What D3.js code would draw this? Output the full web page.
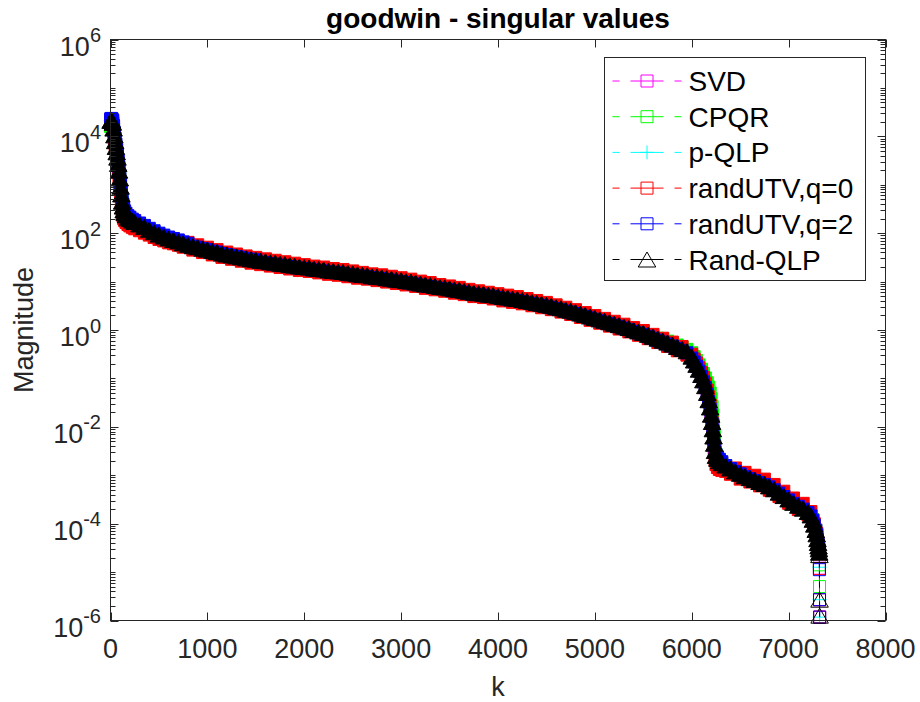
<!DOCTYPE html>
<html>
<head>
<meta charset="utf-8">
<script src="https://cdn.jsdelivr.net/npm/d3@7"></script>
<style>
  body { margin: 0; background: #fff; }
  svg { display: block; }
  text { font-family: "Liberation Sans", Arial, Helvetica, sans-serif; fill: #262626; }
</style>
</head>
<body>
<svg id="chart" width="920" height="702"></svg>
<script>
// ---- chart text ----
const chartTitle = "goodwin - singular values";
const xLabel = "k";
const yLabel = "Magnitude";
const xTicks = [0, 1000, 2000, 3000, 4000, 5000, 6000, 7000, 8000];
const yTickExponents = [-6, -4, -2, 0, 2, 4, 6];
const seriesNames = ["SVD", "CPQR", "p-QLP", "randUTV,q=0", "randUTV,q=2", "Rand-QLP"];

// ---- data: index k and log10 of the estimated singular values ----
const k = [1,8,16,24,32,40,48,56,64,72,80,88,96,104,112,120,128,136,146,160,180,200,225,
  250,300,350,400,450,500,550,600,650,700,
  750,800,850,900,950,1000,1050,1100,1150,1200,
  1250,1300,1350,1400,1450,1500,1550,1600,1650,1700,
  1750,1800,1850,1900,1950,2000,2050,2100,2150,2200,
  2250,2300,2350,2400,2450,2500,2550,2600,2650,2700,
  2750,2800,2850,2900,2950,3000,3050,3100,3150,3200,
  3250,3300,3350,3400,3450,3500,3550,3600,3650,3700,
  3750,3800,3850,3900,3950,4000,4050,4100,4150,4200,
  4250,4300,4350,4400,4450,4500,4550,4600,4650,4700,
  4750,4800,4850,4900,4950,5000,5050,5100,5150,5200,
  5250,5300,5350,5400,5450,5500,5550,5600,5650,5700,
  5750,5800,5850,5900,5950,
  6000,6025,6050,6075,6100,6120,6140,6160,6175,6190,6200,6210,6218,6225,6232,6240,6250,6265,6285,6310,
  6350,6400,6450,6500,6550,6600,6650,6700,6750,6800,6850,6900,6950,7000,7050,7100,7150,7200,
  7230,7250,7265,7280,7290,7298,7304,7309,7313,7316,7318,7319,7320];

const svdLog = [4.32,4.33,4.32,4.28,4.16,4.02,3.90,3.78,3.67,3.56,3.43,3.29,3.13,2.96,2.80,2.65,2.55,2.47,2.42,2.37,2.32,2.29,2.26,
  2.23,2.18,2.13,2.07,2.02,1.97,1.93,1.89,1.86,1.83,
  1.79,1.76,1.73,1.71,1.68,1.66,1.63,1.61,1.58,1.56,
  1.54,1.52,1.50,1.48,1.46,1.45,1.43,1.42,1.40,1.39,
  1.37,1.36,1.34,1.33,1.31,1.30,1.29,1.27,1.26,1.25,
  1.23,1.22,1.21,1.20,1.18,1.17,1.15,1.14,1.13,1.11,
  1.10,1.09,1.07,1.06,1.04,1.03,1.01,1.00,0.98,0.96,
  0.94,0.93,0.91,0.89,0.88,0.86,0.84,0.83,0.81,0.79,
  0.77,0.76,0.75,0.73,0.72,0.70,0.68,0.67,0.65,0.64,
  0.62,0.60,0.58,0.56,0.54,0.52,0.50,0.47,0.45,0.42,
  0.40,0.37,0.34,0.31,0.28,0.25,0.22,0.19,0.16,0.13,
  0.10,0.07,0.04,0.00,-0.03,-0.06,-0.10,-0.14,-0.18,-0.22,
  -0.26,-0.30,-0.35,-0.39,-0.44,
  -0.55,-0.63,-0.72,-0.82,-0.93,-1.04,-1.16,-1.30,-1.45,-1.60,-1.75,-1.90,-2.05,-2.20,-2.35,-2.50,-2.60,-2.66,-2.71,-2.75,
  -2.80,-2.86,-2.92,-2.97,-3.02,-3.06,-3.10,-3.14,-3.18,-3.23,-3.29,-3.36,-3.43,-3.50,-3.57,-3.63,-3.69,-3.76,
  -3.83,-3.92,-4.02,-4.13,-4.22,-4.32,-4.40,-4.47,-4.53,-4.60,-4.92,-5.57,-5.93];

const cpqrLog = [4.20,4.27,4.30,4.27,4.16,4.02,3.90,3.78,3.67,3.56,3.43,3.29,3.13,2.96,2.80,2.65,2.55,2.47,2.42,2.37,2.32,2.29,2.26,
  2.23,2.18,2.13,2.07,2.02,1.97,1.93,1.89,1.86,1.83,
  1.79,1.76,1.73,1.71,1.68,1.66,1.63,1.61,1.58,1.56,
  1.54,1.52,1.50,1.48,1.46,1.45,1.43,1.42,1.40,1.39,
  1.37,1.33,1.31,1.30,1.28,1.27,1.26,1.24,1.23,1.22,
  1.20,1.19,1.18,1.17,1.15,1.14,1.12,1.14,1.13,1.11,
  1.10,1.09,1.07,1.06,1.04,1.03,1.01,1.00,0.98,0.96,
  0.94,0.93,0.91,0.89,0.88,0.86,0.84,0.83,0.81,0.79,
  0.77,0.76,0.75,0.73,0.72,0.70,0.68,0.67,0.65,0.64,
  0.62,0.60,0.58,0.56,0.54,0.52,0.50,0.47,0.45,0.42,
  0.40,0.37,0.34,0.31,0.28,0.25,0.22,0.19,0.16,0.13,
  0.10,0.07,0.04,0.00,-0.03,-0.06,-0.10,-0.14,-0.17,-0.20,
  -0.23,-0.27,-0.31,-0.35,-0.40,
  -0.47,-0.55,-0.63,-0.72,-0.81,-0.90,-0.99,-1.09,-1.18,-1.30,-1.42,-1.58,-1.76,-1.96,-2.18,-2.40,-2.57,-2.66,-2.71,-2.75,
  -2.80,-2.86,-2.92,-2.97,-3.02,-3.06,-3.10,-3.14,-3.18,-3.23,-3.29,-3.36,-3.43,-3.50,-3.57,-3.63,-3.69,-3.76,
  -3.83,-3.92,-4.02,-4.13,-4.22,-4.32,-4.40,-4.47,-4.53,-4.60,-4.85,-5.30,-6.40];

const pqlpLog = [4.32,4.33,4.32,4.28,4.16,4.02,3.90,3.78,3.67,3.56,3.43,3.29,3.13,2.96,2.80,2.65,2.55,2.47,2.42,2.37,2.32,2.29,2.26,
  2.23,2.18,2.13,2.07,2.02,1.97,1.93,1.89,1.86,1.83,
  1.79,1.76,1.73,1.71,1.68,1.66,1.63,1.61,1.58,1.56,
  1.54,1.52,1.50,1.48,1.46,1.45,1.43,1.42,1.40,1.39,
  1.37,1.36,1.34,1.33,1.31,1.30,1.29,1.27,1.26,1.25,
  1.23,1.22,1.21,1.20,1.18,1.17,1.15,1.14,1.13,1.11,
  1.10,1.09,1.07,1.06,1.04,1.03,1.01,1.00,0.98,0.96,
  0.94,0.93,0.91,0.89,0.88,0.86,0.84,0.83,0.81,0.79,
  0.77,0.76,0.75,0.73,0.72,0.70,0.68,0.67,0.65,0.64,
  0.62,0.60,0.58,0.56,0.54,0.52,0.50,0.47,0.45,0.42,
  0.40,0.37,0.34,0.31,0.28,0.25,0.22,0.19,0.16,0.13,
  0.10,0.07,0.04,0.00,-0.03,-0.06,-0.10,-0.14,-0.18,-0.22,
  -0.26,-0.30,-0.35,-0.39,-0.44,
  -0.55,-0.63,-0.72,-0.82,-0.93,-1.04,-1.16,-1.30,-1.45,-1.60,-1.75,-1.90,-2.05,-2.20,-2.35,-2.50,-2.60,-2.66,-2.71,-2.75,
  -2.80,-2.86,-2.92,-2.97,-3.02,-3.06,-3.10,-3.14,-3.18,-3.23,-3.29,-3.36,-3.43,-3.50,-3.57,-3.63,-3.69,-3.76,
  -3.83,-3.92,-4.02,-4.13,-4.22,-4.32,-4.40,-4.47,-4.53,-4.60,-4.90,-5.57,-5.93];

const randUtvQ0Log = [4.30,4.31,4.29,4.24,4.10,3.95,3.82,3.70,3.58,3.46,3.32,3.16,2.98,2.80,2.62,2.46,2.36,2.30,2.26,2.22,2.18,2.15,2.12,
  2.09,2.05,2.00,1.96,1.91,1.87,1.84,1.80,1.78,1.75,
  1.71,1.81,1.65,1.76,1.60,1.71,1.55,1.66,1.50,1.61,
  1.46,1.57,1.42,1.53,1.38,1.50,1.35,1.47,1.32,1.44,
  1.29,1.41,1.26,1.38,1.23,1.35,1.21,1.32,1.18,1.30,
  1.15,1.27,1.13,1.25,1.10,1.22,1.07,1.19,1.05,1.16,
  1.02,1.14,0.99,1.11,0.96,1.08,0.93,1.05,0.90,1.01,
  0.86,0.98,0.83,0.94,0.80,0.91,0.76,0.88,0.73,0.84,
  0.69,0.81,0.67,0.78,0.64,0.75,0.60,0.72,0.57,0.69,
  0.54,0.65,0.50,0.61,0.46,0.57,0.42,0.52,0.37,0.47,
  0.32,0.42,0.26,0.36,0.20,0.30,0.14,0.24,0.08,0.18,
  0.02,0.12,-0.04,0.05,-0.11,-0.01,-0.18,-0.09,-0.26,-0.17,
  -0.34,-0.25,-0.43,-0.34,-0.52,
  -0.50,-0.60,-0.68,-0.78,-0.88,-0.98,-1.10,-1.24,-1.38,-1.55,-1.72,-1.90,-2.08,-2.28,-2.48,-2.68,-2.78,-2.84,-2.88,-2.90,
  -2.92,-2.98,-2.85,-3.08,-2.94,-3.14,-3.00,-3.22,-3.08,-3.31,-3.19,-3.44,-3.33,-3.58,-3.47,-3.71,-3.58,-3.82,
  -3.75,-3.95,-4.00,-4.18,-4.20,-4.36,-4.40,-4.50,-4.55,-4.62,-4.93,-5.57,-5.93];

const randUtvQ2Log = [4.36,4.37,4.36,4.33,4.22,4.08,3.96,3.84,3.73,3.62,3.49,3.36,3.20,3.03,2.87,2.71,2.60,2.52,2.46,2.41,2.36,2.33,2.29,
  2.26,2.21,2.16,2.10,2.05,2.00,1.96,1.92,1.89,1.86,
  1.82,1.79,1.73,1.71,1.68,1.66,1.63,1.61,1.58,1.56,
  1.54,1.52,1.50,1.48,1.46,1.45,1.40,1.39,1.37,1.36,
  1.34,1.33,1.31,1.30,1.28,1.27,1.26,1.24,1.23,1.22,
  1.20,1.19,1.18,1.17,1.15,1.14,1.12,1.11,1.10,1.08,
  1.07,1.06,1.04,1.03,1.01,1.00,0.98,0.97,0.95,0.93,
  0.91,0.90,0.88,0.86,0.85,0.83,0.81,0.80,0.78,0.76,
  0.74,0.73,0.72,0.70,0.69,0.67,0.65,0.64,0.62,0.61,
  0.59,0.57,0.55,0.53,0.51,0.49,0.47,0.44,0.42,0.39,
  0.37,0.34,0.31,0.28,0.25,0.22,0.19,0.16,0.13,0.10,
  0.07,0.04,0.01,-0.03,-0.06,-0.09,-0.13,-0.17,-0.21,-0.25,
  -0.29,-0.33,-0.38,-0.42,-0.47,
  -0.58,-0.66,-0.75,-0.85,-0.96,-1.07,-1.19,-1.33,-1.48,-1.63,-1.78,-1.93,-2.08,-2.23,-2.38,-2.52,-2.57,-2.62,-2.67,-2.72,
  -2.80,-2.86,-2.92,-2.97,-3.03,-3.07,-3.11,-3.15,-3.19,-3.24,-3.30,-3.37,-3.44,-3.51,-3.58,-3.64,-3.70,-3.77,
  -3.84,-3.93,-4.03,-4.14,-4.23,-4.33,-4.41,-4.48,-4.54,-4.61,-4.95,-5.57,-5.93];

const randQlpLog = [4.32,4.33,4.32,4.28,4.16,4.02,3.90,3.78,3.67,3.56,3.43,3.29,3.13,2.96,2.80,2.65,2.55,2.47,2.42,2.37,2.32,2.29,2.26,
  2.23,2.18,2.13,2.07,2.02,1.97,1.93,1.89,1.86,1.83,
  1.79,1.76,1.73,1.71,1.68,1.66,1.63,1.61,1.58,1.56,
  1.54,1.52,1.50,1.48,1.46,1.45,1.43,1.42,1.40,1.39,
  1.37,1.36,1.34,1.33,1.31,1.30,1.29,1.27,1.26,1.25,
  1.23,1.22,1.21,1.20,1.18,1.17,1.15,1.14,1.13,1.11,
  1.10,1.09,1.07,1.06,1.04,1.03,1.01,1.00,0.98,0.96,
  0.94,0.93,0.91,0.89,0.88,0.86,0.84,0.83,0.81,0.79,
  0.77,0.76,0.75,0.73,0.72,0.70,0.68,0.67,0.65,0.64,
  0.62,0.60,0.58,0.56,0.54,0.52,0.50,0.47,0.45,0.42,
  0.40,0.37,0.34,0.31,0.28,0.25,0.22,0.19,0.16,0.13,
  0.10,0.07,0.04,0.00,-0.03,-0.06,-0.10,-0.14,-0.18,-0.22,
  -0.26,-0.30,-0.35,-0.39,-0.44,
  -0.55,-0.63,-0.72,-0.82,-0.93,-1.04,-1.16,-1.30,-1.45,-1.60,-1.75,-1.90,-2.05,-2.20,-2.35,-2.50,-2.60,-2.66,-2.71,-2.75,
  -2.80,-2.86,-2.92,-2.97,-3.02,-3.06,-3.10,-3.14,-3.18,-3.23,-3.29,-3.36,-3.43,-3.50,-3.57,-3.63,-3.69,-3.76,
  -3.83,-3.92,-4.02,-4.13,-4.22,-4.32,-4.40,-4.47,-4.53,-4.60,-4.65,-5.57,-5.90];

// ---- styling ----
const seriesColors = ["#ff00ff", "#00ff00", "#00ffff", "#ff0000", "#0000ff", "#000000"];
const seriesMarkers = ["square", "square", "plus", "square", "square", "triangle"];
const seriesValues = [svdLog, cpqrLog, pqlpLog, randUtvQ0Log, randUtvQ2Log, randQlpLog];

const plot = { left: 110.5, right: 885.5, top: 39.5, bottom: 620.5 };
const axisColor = "#262626";

const svg = d3.select("#chart");

const x = d3.scaleLinear().domain([0, 8000]).range([plot.left, plot.right]);
const y = d3.scaleLog().domain([1e-6, 1e6]).range([plot.bottom, plot.top]);

// marker symbol types (size = nominal marker height in px)
const symSquare = { draw(c, s) { const h = s / 2; c.moveTo(-h, -h); c.lineTo(h, -h); c.lineTo(h, h); c.lineTo(-h, h); c.closePath(); } };
const symTriangle = { draw(c, s) { const w = s * 1.17, h = s; c.moveTo(0, -h / 2); c.lineTo(w / 2, h / 2); c.lineTo(-w / 2, h / 2); c.closePath(); } };
const symPlus = { draw(c, s) { const h = s / 2; c.moveTo(-h, 0); c.lineTo(h, 0); c.moveTo(0, -h); c.lineTo(0, h); } };
const markerTypes = { square: [symSquare, 12], triangle: [symTriangle, 15], plus: [symPlus, 14] };

svg.append("defs").append("clipPath").attr("id", "plotClip")
  .append("rect")
  .attr("x", plot.left).attr("y", plot.top)
  .attr("width", plot.right - plot.left).attr("height", plot.bottom - plot.top);

// ---- series: dashed line followed by its markers ----
const seriesLayer = svg.append("g");
seriesNames.forEach((name, si) => {
  const vals = seriesValues[si];
  const pts = k.map((kk, i) => ({ k: kk, v: Math.pow(10, vals[i]), i }));
  const color = seriesColors[si];
  const g = seriesLayer.append("g").attr("class", "series");

  const line = d3.line().x(d => x(d.k)).y(d => y(d.v));
  g.append("path")
    .attr("d", line(pts))
    .attr("clip-path", "url(#plotClip)")
    .attr("fill", "none")
    .attr("stroke", color)
    .attr("stroke-width", 0.8)
    .attr("stroke-dasharray", "6,4");

  const [type, size] = markerTypes[seriesMarkers[si]];
  const sym = d3.symbol().type(type).size(size);
  const inside = pts.filter(d => d.v >= 1e-6 && d.v <= 1e6);
  g.selectAll("path.mk").data(inside).join("path")
    .attr("class", "mk")
    .attr("d", sym)
    .attr("transform", d => `translate(${x(d.k)},${y(d.v)})`)
    // a sample that stands for a run of indices is drawn as a solid swath
    .attr("fill", d => {
      const prevGap = d.i > 0 ? d.k - k[d.i - 1] : Infinity;
      const nextGap = d.i < k.length - 1 ? k[d.i + 1] - d.k : Infinity;
      return (seriesMarkers[si] !== "plus" && Math.min(prevGap, nextGap) >= 2) ? color : "none";
    })
    .attr("stroke", color)
    .attr("stroke-width", 1);
});

// ---- axes box ----
const axisG = svg.append("g");
axisG.append("rect")
  .attr("x", plot.left).attr("y", plot.top)
  .attr("width", plot.right - plot.left).attr("height", plot.bottom - plot.top)
  .attr("fill", "none").attr("stroke", axisColor).attr("stroke-width", 1);

const majorLen = 8, minorLen = 5;
const tickFont = 27;

// x ticks (inside, bottom and top)
xTicks.forEach(t => {
  const px = Math.round(x(t)) + 0.5;
  axisG.append("line").attr("x1", px).attr("x2", px)
    .attr("y1", plot.bottom).attr("y2", plot.bottom - majorLen)
    .attr("stroke", axisColor);
  axisG.append("line").attr("x1", px).attr("x2", px)
    .attr("y1", plot.top).attr("y2", plot.top + majorLen)
    .attr("stroke", axisColor);
  axisG.append("text")
    .attr("x", x(t)).attr("y", plot.bottom + 37.5)
    .attr("text-anchor", "middle")
    .attr("font-size", tickFont)
    .text(t);
});

// y ticks: labelled decades plus log minor ticks
const [e0, e1] = d3.extent(yTickExponents);
for (let e = e0; e <= e1; e++) {
  const isMajor = yTickExponents.includes(e);
  const mults = e < e1 ? [1, 2, 3, 4, 5, 6, 7, 8, 9] : [1];
  mults.forEach(m => {
    const py = Math.round(y(m * Math.pow(10, e))) + 0.5;
    const len = (m === 1 && isMajor) ? majorLen : minorLen;
    axisG.append("line").attr("x1", plot.left).attr("x2", plot.left + len)
      .attr("y1", py).attr("y2", py).attr("stroke", axisColor);
    axisG.append("line").attr("x1", plot.right).attr("x2", plot.right - len)
      .attr("y1", py).attr("y2", py).attr("stroke", axisColor);
  });
}
yTickExponents.forEach(e => {
  const py = y(Math.pow(10, e));
  const t = axisG.append("text")
    .attr("x", plot.left - 9.5).attr("y", py + 16)
    .attr("text-anchor", "end")
    .attr("font-size", tickFont);
  t.append("tspan").text("10");
  t.append("tspan").attr("dy", -13.5).attr("font-size", 20).text(e);
});

// ---- titles ----
svg.append("text")
  .attr("x", (plot.left + plot.right) / 2).attr("y", 28)
  .attr("text-anchor", "middle")
  .attr("font-size", 28).attr("font-weight", "bold")
  .style("fill", "#000")
  .text(chartTitle);

svg.append("text")
  .attr("x", (plot.left + plot.right) / 2).attr("y", 696)
  .attr("text-anchor", "middle")
  .attr("font-size", 27)
  .text(xLabel);

svg.append("text")
  .attr("transform", `translate(33,${(plot.top + plot.bottom) / 2}) rotate(-90)`)
  .attr("text-anchor", "middle")
  .attr("font-size", 27)
  .text(yLabel);

// ---- legend ----
const legend = { x: 604.5, y: 57.5, w: 261, h: 223, row0: 81, rowStep: 35.7 };
const lg = svg.append("g");
lg.append("rect")
  .attr("x", legend.x).attr("y", legend.y)
  .attr("width", legend.w).attr("height", legend.h)
  .attr("fill", "#fff").attr("stroke", axisColor).attr("stroke-width", 1);

seriesNames.forEach((name, si) => {
  const cy = legend.row0 + si * legend.rowStep;
  const color = seriesColors[si];
  lg.append("line")
    .attr("x1", legend.x + 8).attr("x2", legend.x + 77)
    .attr("y1", cy).attr("y2", cy)
    .attr("stroke", color).attr("stroke-width", 1)
    .attr("stroke-dasharray", "7,11,33,11,7");
  const [type, size] = markerTypes[seriesMarkers[si]];
  lg.append("path")
    .attr("d", d3.symbol().type(type).size(size)())
    .attr("transform", `translate(${legend.x + 42.5},${cy})`)
    .attr("fill", "none").attr("stroke", color).attr("stroke-width", 1);
  lg.append("text")
    .attr("x", legend.x + 84).attr("y", cy + 10)
    .attr("font-size", 28)
    .style("fill", "#000")
    .text(name);
});
</script>
</body>
</html>
